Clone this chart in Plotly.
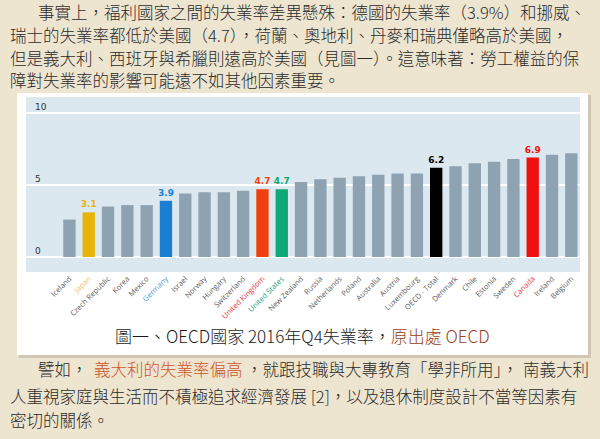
import plotly.graph_objects as go

# ---------------- data ----------------
countries = ["Iceland", "Japan", "Czech Republic", "Korea", "Mexico", "Germany", "Israel",
             "Norway", "Hungary", "Switzerland", "United Kingdom", "United States",
             "New Zealand", "Russia", "Netherlands", "Poland", "Australia", "Austria",
             "Luxembourg", "OECD - Total", "Denmark", "Chile", "Estonia", "Sweden",
             "Canada", "Ireland", "Belgium"]
unemployment = [2.6, 3.1, 3.5, 3.6, 3.6, 3.9, 4.4, 4.5, 4.5, 4.6, 4.7, 4.7,
                5.2, 5.4, 5.5, 5.6, 5.7, 5.8, 5.8, 6.2, 6.3, 6.5, 6.6, 6.8,
                6.9, 7.1, 7.2]
highlight_bar = {"Japan": "#e8b40a", "Germany": "#1a7fd2", "United Kingdom": "#f0400e",
                 "United States": "#10a874", "OECD - Total": "#000000", "Canada": "#f20f0f"}
highlight_label = {"Japan": "#e6c46a", "Germany": "#4a9ad8", "United Kingdom": "#e0383a",
                   "United States": "#2a9e80", "Canada": "#e03a48"}
y_ticks = [0, 5, 10]

top_lines = [
    "事實上，福利國家之間的失業率差異懸殊：德國的失業率（3.9%）和挪威、",
    "瑞士的失業率都低於美國（4.7），荷蘭、奧地利、丹麥和瑞典僅略高於美國，",
    "但是義大利、西班牙與希臘則遠高於美國（見圖一）。這意味著：勞工權益的保",
    "障對失業率的影響可能遠不如其他因素重要。",
]
caption_main = "圖一、OECD國家 2016年Q4失業率，"
caption_src = "原出處 OECD"
bottom_seg = ["譬如，", "義大利的失業率偏高", "，就跟技職與大專教育「學非所用」，", "南義大利"]
bottom_lines = [
    "人重視家庭與生活而不積極追求經濟發展 [2]，以及退休制度設計不當等因素有",
    "密切的關係。",
]

# ---------------- layout geometry ----------------
W, H = 600, 439
L, T, R, B = 26, 97, 20, 167
PW, PH = W - L - R, H - T - B


def px(x):
    return (x - L) / PW


def py(y):
    return (H - B - y) / PH


GRAY = "#8ea2b1"
FONT_CJK = "Noto Sans CJK TC"
TXT = dict(size=16.5, color="#2a2a2a", family=FONT_CJK, weight=300)

xs = list(range(len(countries)))
bar_colors = [highlight_bar.get(c, GRAY) for c in countries]
bar_text = [f"<b>{v:.1f}</b>" if c in highlight_bar else "" for c, v in zip(countries, unemployment)]
text_colors = [highlight_bar.get(c, GRAY) for c in countries]
tick_text = [f"<span style='color:{highlight_label[c]}'>{c}</span>" if c in highlight_label else c
             for c in countries]

fig = go.Figure()
fig.add_trace(go.Bar(
    x=xs, y=unemployment, width=0.64,
    marker=dict(color=bar_colors, line=dict(width=0)),
    text=bar_text, textposition="outside", constraintext="none", cliponaxis=False,
    textfont=dict(size=9, color=text_colors, family="DejaVu Sans"),
    hoverinfo="skip",
))

shapes = [
    dict(type="rect", xref="paper", yref="paper", x0=px(19), x1=px(591), y0=py(358), y1=py(95),
         fillcolor="#cfc6b4", line=dict(width=0), layer="below"),
    dict(type="rect", xref="paper", yref="paper", x0=px(17), x1=px(588), y0=py(355), y1=py(93),
         fillcolor="#ffffff", line=dict(width=0), layer="below"),
    dict(type="rect", xref="paper", yref="paper", x0=0, x1=1, y0=0, y1=1,
         fillcolor="#dce8f0", line=dict(width=0), layer="below"),
]

annotations = []
top_x = [36, 8, 8, 8]
top_y = [12, 35, 58, 80]
for line, x0, y0 in zip(top_lines, top_x, top_y):
    annotations.append(dict(text=line, x=px(x0), y=py(y0), xref="paper", yref="paper",
                            xanchor="left", yanchor="middle", showarrow=False, font=TXT))

annotations.append(dict(
    text=caption_main + f"<span style='color:#9a3f22'>{caption_src}</span>",
    x=px(302), y=py(335), xref="paper", yref="paper", xanchor="center", yanchor="middle",
    showarrow=False, font=dict(size=17, color="#1a1a1a", family=FONT_CJK, weight=300)))

seg_x = [36, 92, 244, 591]
seg_anchor = ["left", "left", "left", "right"]
seg_color = ["#2a2a2a", "#cc5528", "#2a2a2a", "#2a2a2a"]
for s, x0, a, c in zip(bottom_seg, seg_x, seg_anchor, seg_color):
    annotations.append(dict(text=s, x=px(x0), y=py(369), xref="paper", yref="paper",
                            xanchor=a, yanchor="middle", showarrow=False,
                            font=dict(TXT, color=c)))
for line, y0 in zip(bottom_lines, [396, 420]):
    annotations.append(dict(text=line, x=px(8), y=py(y0), xref="paper", yref="paper",
                            xanchor="left", yanchor="middle", showarrow=False, font=TXT))

fig.update_layout(
    width=W, height=H,
    margin=dict(l=L, r=R, t=T, b=B, pad=0),
    paper_bgcolor="#eee5d1",
    plot_bgcolor="rgba(0,0,0,0)",
    showlegend=False,
    shapes=shapes,
    annotations=annotations,
    xaxis=dict(range=[-2.25, 26.45], tickmode="array", tickvals=xs, ticktext=tick_text,
               tickangle=-45, tickfont=dict(size=7.5, color="#606060", family="Open Sans"),
               showgrid=False, zeroline=False, showline=False, ticks="", fixedrange=True),
    yaxis=dict(range=[-1.04, 11.1], tickmode="array", tickvals=y_ticks,
               ticklabelposition="inside top", ticklabelstandoff=6,
               tickfont=dict(size=9, color="#333333", family="DejaVu Sans"),
               showgrid=True, gridcolor="#ffffff", gridwidth=2, zeroline=False,
               showline=False, ticks="", fixedrange=True),
)

fig.write_html("out.html", config={"displayModeBar": False},
               post_script="document.body.style.margin='0px';document.body.style.overflow='hidden';")
